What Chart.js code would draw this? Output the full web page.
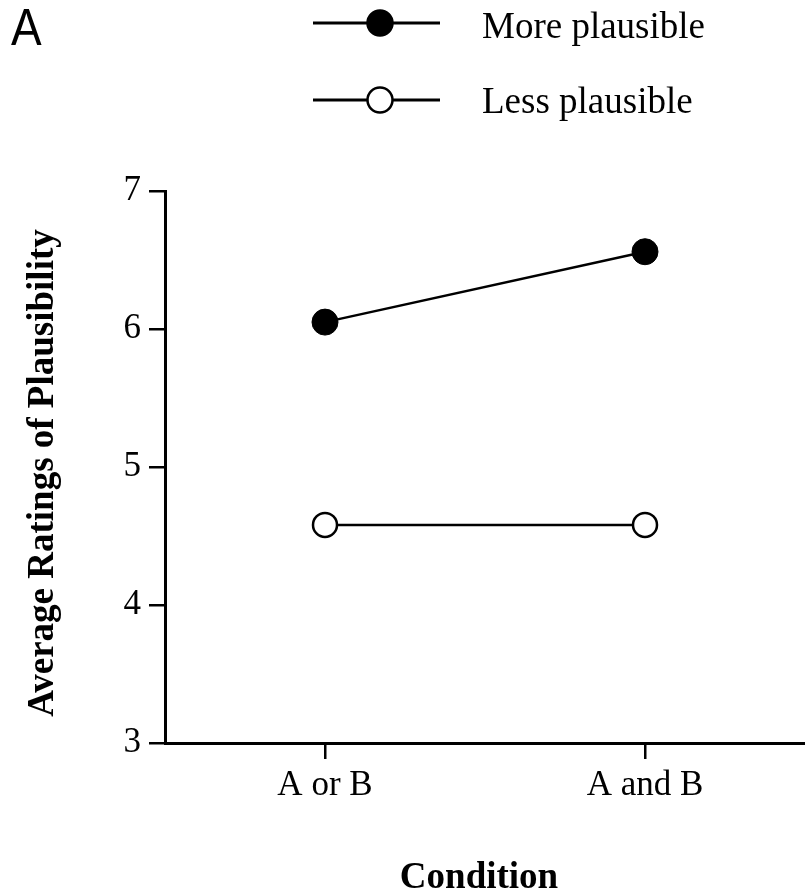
<!DOCTYPE html>
<html>
<head>
<meta charset="utf-8">
<script src="https://cdn.jsdelivr.net/npm/chart.js@4.4.1/dist/chart.umd.min.js"></script>
<style>
html,body{margin:0;padding:0;background:#fff;}
#wrap{position:relative;width:805px;height:894px;}
</style>
</head>
<body>
<div id="wrap"><canvas id="c" width="805" height="894"></canvas></div>
<script>
const categories = ["A or B", "A and B"];
const morePlausible = [6.05, 6.56];
const lessPlausible = [4.58, 4.58];
const seriesNames = ["More plausible", "Less plausible"];
const yTicks = [3, 4, 5, 6, 7];
const panelLabel = "A";
const yTitle = "Average Ratings of Plausibility";
const xTitle = "Condition";

const serif = "'Liberation Serif', 'Times New Roman', serif";

const overlay = {
  id: 'overlay',
  afterDraw(chart) {
    const ctx = chart.ctx;
    ctx.save();
    // panel label
    ctx.fillStyle = '#000';
    ctx.font = "51px 'Liberation Sans', Arial, sans-serif";
    ctx.textAlign = 'left';
    ctx.textBaseline = 'alphabetic';
    ctx.save();
    ctx.translate(11, 45);
    ctx.scale(0.9, 1);
    ctx.fillText(panelLabel, 0, 0);
    ctx.restore();
    // legend
    const rows = [
      {y: 23, base: 38, fill: '#000', name: seriesNames[0]},
      {y: 100, base: 113, fill: '#fff', name: seriesNames[1]}
    ];
    rows.forEach(r => {
      ctx.strokeStyle = '#000';
      ctx.lineWidth = 3;
      ctx.beginPath();
      ctx.moveTo(313, r.y);
      ctx.lineTo(440, r.y);
      ctx.stroke();
      ctx.beginPath();
      ctx.arc(380, r.y, 12.5, 0, Math.PI * 2);
      ctx.fillStyle = r.fill;
      ctx.fill();
      ctx.lineWidth = 2.5;
      ctx.stroke();
      ctx.fillStyle = '#000';
      ctx.font = "37px " + serif;
      ctx.textAlign = 'left';
      ctx.textBaseline = 'alphabetic';
      ctx.fillText(r.name, 482, r.base);
    });
    // y title
    ctx.save();
    ctx.translate(53, 473);
    ctx.rotate(-Math.PI / 2);
    ctx.font = "bold 37px " + serif;
    ctx.textAlign = 'center';
    ctx.textBaseline = 'alphabetic';
    ctx.fillText(yTitle, 0, 0);
    ctx.restore();
    // x title
    ctx.font = "bold 37px " + serif;
    ctx.textAlign = 'center';
    ctx.textBaseline = 'alphabetic';
    ctx.fillText(xTitle, 479, 888);
    ctx.restore();
  }
};

new Chart(document.getElementById('c'), {
  type: 'line',
  data: {
    labels: categories,
    datasets: [
      {
        label: seriesNames[0],
        data: morePlausible,
        borderColor: '#000',
        borderWidth: 2.5,
        pointRadius: 13,
        pointBackgroundColor: '#000',
        pointBorderColor: '#000',
        pointBorderWidth: 1,
        tension: 0
      },
      {
        label: seriesNames[1],
        data: lessPlausible,
        borderColor: '#000',
        borderWidth: 2.5,
        pointRadius: 12,
        pointBackgroundColor: '#fff',
        pointBorderColor: '#000',
        pointBorderWidth: 2.5,
        tension: 0
      }
    ]
  },
  options: {
    responsive: false,
    animation: false,
    clip: false,
    layout: {autoPadding: false, padding: {top: 191, right: 0, left: 0, bottom: 0}},
    plugins: {legend: {display: false}, tooltip: {enabled: false}, title: {display: false}},
    scales: {
      x: {
        type: 'category',
        offset: true,
        grid: {display: true, drawOnChartArea: false, drawTicks: true, tickLength: 16, color: '#000', lineWidth: 2.5, offset: false},
        border: {display: true, color: '#000', width: 3},
        ticks: {color: '#000', font: {family: serif, size: 35}, padding: 6},
        afterFit(scale) { scale.height = 894 - 743; scale.paddingLeft = 0; scale.paddingRight = 0; }
      },
      y: {
        min: 3, max: 7,
        afterBuildTicks(scale) { scale.ticks = yTicks.map(v => ({value: v})); },
        grid: {display: true, drawOnChartArea: false, drawTicks: true, tickLength: 16, color: '#000', lineWidth: 2.5},
        border: {display: true, color: '#000', width: 3},
        ticks: {color: '#000', font: {family: serif, size: 35}, padding: 8},
        afterFit(scale) { scale.width = 165; }
      }
    }
  },
  plugins: [overlay]
});
</script>
</body>
</html>
